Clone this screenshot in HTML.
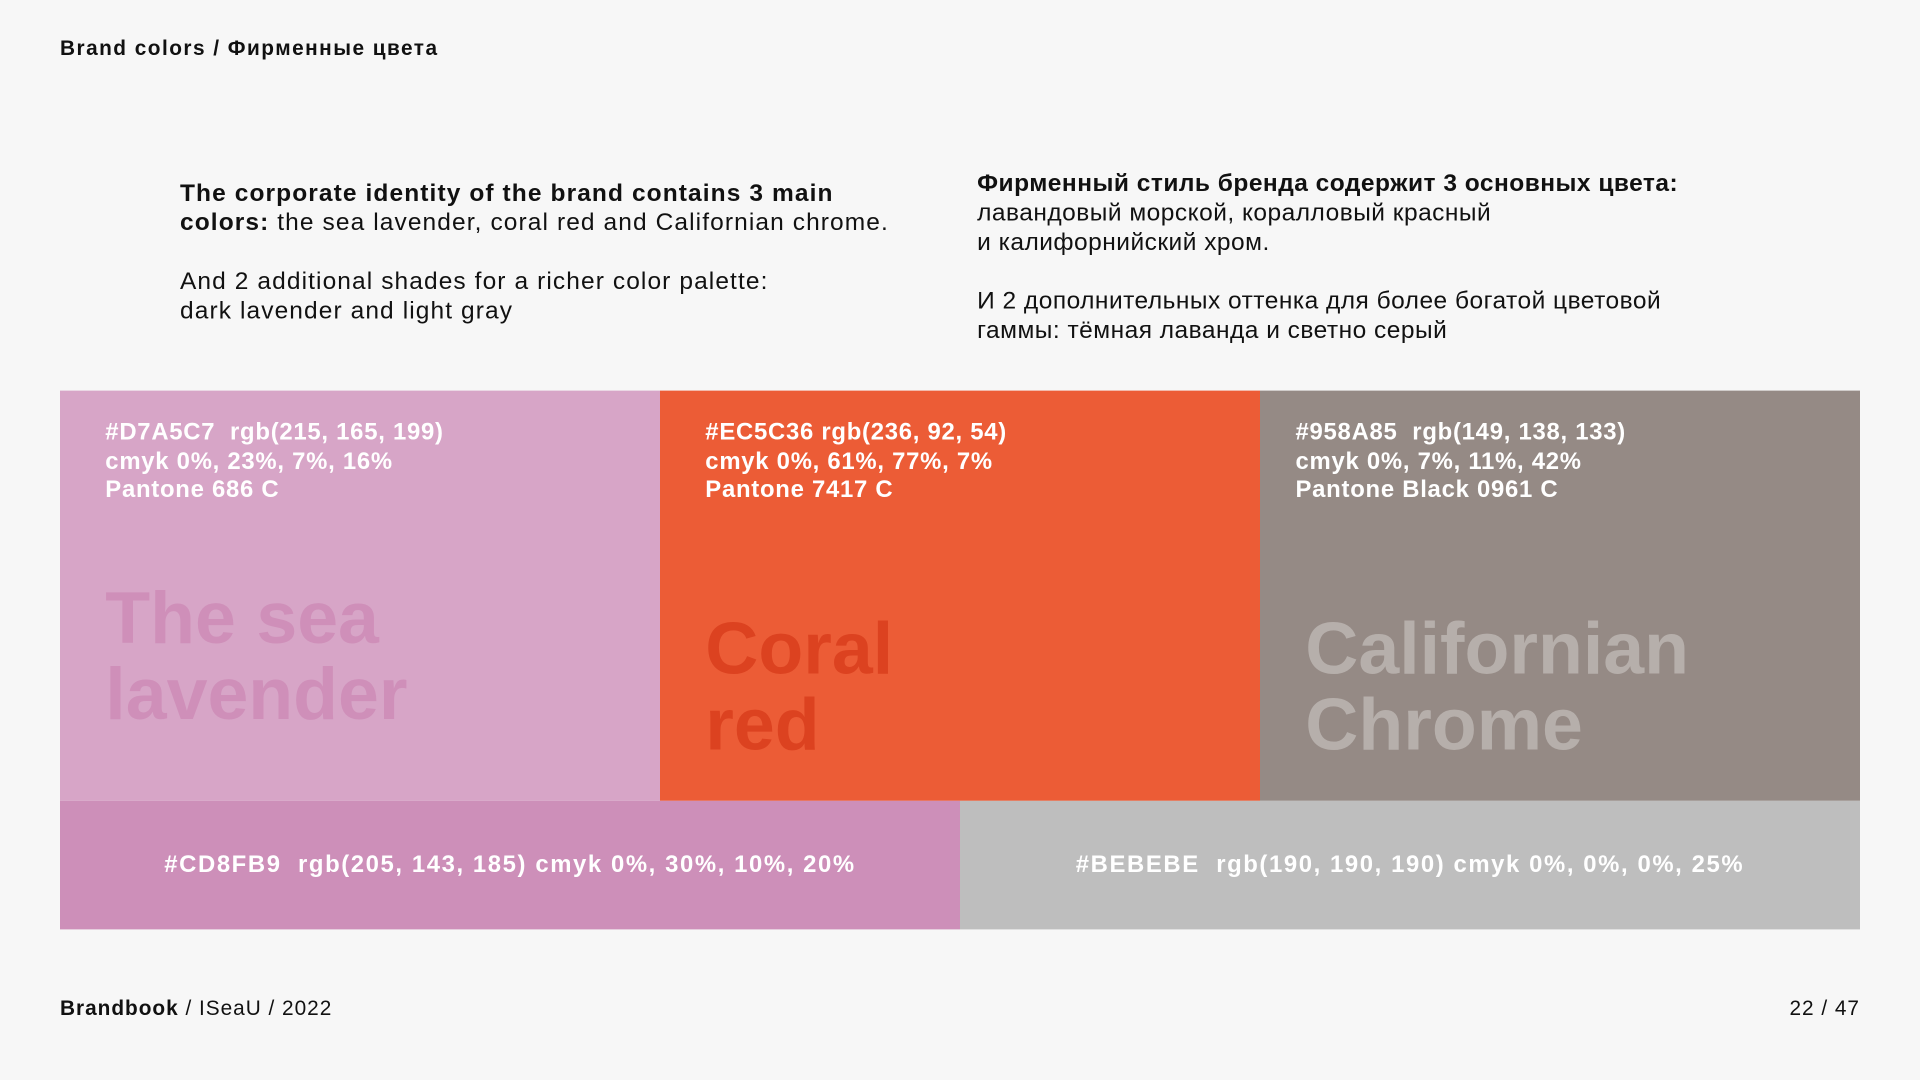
<!DOCTYPE html>
<html><head><meta charset="utf-8"><style>
html,body{margin:0;padding:0;width:1920px;height:1080px;overflow:hidden;background:#f7f7f7;}
#s{position:absolute;left:0;top:0;width:1568px;height:882px;transform:scale(1.22449);transform-origin:0 0;font-family:"Liberation Sans",sans-serif;color:#111;}
.a{position:absolute;white-space:nowrap;}
.p{font-size:20px;line-height:24px;letter-spacing:0.9px;}
.sw{position:absolute;}
.t{position:absolute;left:37px;top:23px;color:#fff;font-weight:bold;font-size:19.5px;line-height:23.5px;white-space:nowrap;letter-spacing:0.6px;}
.big{position:absolute;left:37px;font-weight:bold;font-size:60px;line-height:62px;white-space:nowrap;}
.bt{position:absolute;top:0;left:0;right:0;line-height:104px;text-align:center;color:#fff;font-weight:bold;font-size:19.5px;letter-spacing:1.3px;}
</style></head><body><div id="s">
<div class="a" style="left:49px;top:30px;font-size:17px;font-weight:bold;letter-spacing:1.2px;">Brand colors / Фирменные цвета</div>
<div class="a p" style="left:147px;top:146px;"><b>The corporate identity of the brand contains 3 main<br>colors:</b> the sea lavender, coral red and Californian chrome.<br><br>And 2 additional shades for a richer color palette:<br>dark lavender and light gray</div>
<div class="a p" style="left:798px;top:138px;letter-spacing:0.4px;"><b>Фирменный стиль бренда содержит 3 основных цвета:</b><br>лавандовый морской, коралловый красный<br>и калифорнийский хром.<br><br>И 2 дополнительных оттенка для более богатой цветовой<br>гаммы: тёмная лаванда и светно серый</div>
<div class="sw" style="left:49px;top:319px;width:490px;height:335px;background:#d7a5c7;">
<div class="t">#D7A5C7&nbsp; rgb(215, 165, 199)<br>cmyk 0%, 23%, 7%, 16%<br>Pantone 686 C</div>
<div class="big" style="top:155px;color:#cf8fb9;">The sea<br>lavender</div></div>
<div class="sw" style="left:539px;top:319px;width:490px;height:335px;background:#ec5c36;">
<div class="t">#EC5C36 rgb(236, 92, 54)<br>cmyk 0%, 61%, 77%, 7%<br>Pantone 7417 C</div>
<div class="big" style="top:180px;color:#dc4220;">Coral<br>red</div></div>
<div class="sw" style="left:1029px;top:319px;width:490px;height:335px;background:#958a85;">
<div class="t" style="left:29px;">#958A85&nbsp; rgb(149, 138, 133)<br>cmyk 0%, 7%, 11%, 42%<br>Pantone Black 0961 C</div>
<div class="big" style="top:180px;color:#b6afab;">Californian<br>Chrome</div></div>
<div class="sw" style="left:49px;top:654px;width:735px;height:105px;background:#cd8fb9;"><div class="bt">#CD8FB9&nbsp; rgb(205, 143, 185) cmyk 0%, 30%, 10%, 20%</div></div>
<div class="sw" style="left:784px;top:654px;width:735px;height:105px;background:#bebebe;"><div class="bt">#BEBEBE&nbsp; rgb(190, 190, 190) cmyk 0%, 0%, 0%, 25%</div></div>
<div class="a" style="left:49px;top:814px;font-size:17px;letter-spacing:0.8px;"><b>Brandbook</b> / ISeaU / 2022</div>
<div class="a" style="right:49px;top:814px;font-size:17px;letter-spacing:0.8px;">22 / 47</div>
</div></body></html>
